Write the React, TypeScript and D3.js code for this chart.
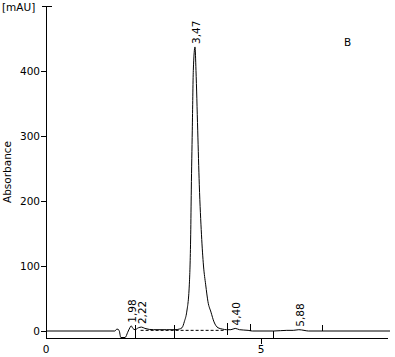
import React from "react";
import * as d3 from "d3";

// Chromatogram signal (time in min, absorbance in mAU)
const times = [0, 1.6, 1.65, 1.7, 1.74, 1.84, 1.9, 1.95, 1.98, 2.02, 2.07, 2.15, 2.22, 2.3, 2.5, 2.8, 3.0, 3.1, 3.163, 3.22, 3.272, 3.333, 3.365, 3.379, 3.402, 3.426, 3.465, 3.488, 3.528, 3.565, 3.616, 3.663, 3.714, 3.767, 3.837, 3.907, 4.0, 4.1, 4.2, 4.3, 4.4, 4.5, 4.7, 4.8, 5.3, 5.6, 5.75, 5.88, 6.0, 6.1, 8.0];
const absorbance = [0, 0, 3, 1, -10, -10, -2, 5, 8, 4, 2, 5, 6, 4, 2, 2, 2, 3, 5, 15, 29, 71, 148, 217, 309, 401, 437, 401, 309, 225, 148, 100, 71, 45, 29, 14, 5, 3, 2, 2, 4, 2, 1, 0, 0, 1, 1, 2, 1, 0, 0];

// Peak labels
const peakLabels = ["1,98", "2,22", "3,47", "4,40", "5,88"];
const peakTimes = [1.98, 2.22, 3.47, 4.40, 5.88];
const peakHeights = [8, 6, 437, 4, 2];

// Integration markers
const markerTimes = [2.07, 2.977, 4.226, 4.76, 5.286, 6.435];
const markerTops = [10, 9, 13, 11, 0, 9];
const markerBottoms = [-10, -10, -6, 0, -11, 0];

// Dashed baseline
const baseStart = [2.2, 1];
const baseEnd = [4.15, 1];

// Axes
const yTicks = [0, 100, 200, 300, 400];
const xTicks = [0, 5];
const xDomain = [0, 8];
const yDomain = [0, 500];

const W = 395;
const H = 357;
const FONT = "'DejaVu Sans', Verdana, sans-serif";

export default function App() {
  const x = d3.scaleLinear().domain(xDomain).range([46, 390]);
  const y = d3.scaleLinear().domain(yDomain).range([331, 6]);
  const axisY = 338;

  const pts: [number, number][] = times.map((t, i) => [t, absorbance[i]]);
  const line = d3
    .line<[number, number]>()
    .x((d) => x(d[0]))
    .y((d) => y(d[1]))
    .curve(d3.curveMonotoneX);

  return (
    <svg
      width={W}
      height={H}
      style={{ position: "absolute", left: 0, top: 0, background: "#fff" }}
      fontFamily={FONT}
    >
      <rect x={0} y={0} width={W} height={H} fill="#fff" />
      {/* axes */}
      <line x1={x(0)} x2={x(0)} y1={y(500)} y2={axisY} stroke="#000" shapeRendering="crispEdges" />
      <line x1={x(0)} x2={388} y1={axisY} y2={axisY} stroke="#000" shapeRendering="crispEdges" />
      <line x1={x(0) - 4} x2={x(0) + 6} y1={y(500)} y2={y(500)} stroke="#000" shapeRendering="crispEdges" />
      {yTicks.map((v) => (
        <g key={"yt" + v}>
          <line x1={x(0) - 5} x2={x(0)} y1={y(v)} y2={y(v)} stroke="#000" shapeRendering="crispEdges" />
          <text x={x(0) - 6} y={y(v) + 4} textAnchor="end" fontSize={10.5} fill="#000">
            {v}
          </text>
        </g>
      ))}
      {xTicks.map((v) => (
        <g key={"xt" + v}>
          {v !== 0 && (
            <line x1={x(v)} x2={x(v)} y1={axisY} y2={axisY + 6} stroke="#000" shapeRendering="crispEdges" />
          )}
          <text x={x(v)} y={353} textAnchor="middle" fontSize={10.5} fill="#000">
            {v}
          </text>
        </g>
      ))}
      <text x={2} y={11} fontSize={10.5} fill="#000">[mAU]</text>
      <text
        transform={`translate(11, 172) rotate(-90)`}
        textAnchor="middle"
        fontSize={10.5}
        fill="#000"
      >
        Absorbance
      </text>
      <text x={344} y={46} fontSize={10.5} fill="#000">B</text>

      {/* dashed baseline */}
      <line
        x1={x(baseStart[0])}
        y1={y(baseStart[1])}
        x2={x(baseEnd[0])}
        y2={y(baseEnd[1])}
        stroke="#000"
        strokeDasharray="3,2"
      />

      {/* signal */}
      <path d={line(pts) || ""} fill="none" stroke="#000" strokeWidth={1} />

      {/* integration markers */}
      {markerTimes.map((t, i) => (
        <line
          key={"m" + i}
          x1={x(t)}
          x2={x(t)}
          y1={y(markerTops[i])}
          y2={y(markerBottoms[i])}
          stroke="#000"
          shapeRendering="crispEdges"
        />
      ))}

      {/* peak labels */}
      {peakLabels.map((lab, i) => (
        <text
          key={"p" + i}
          transform={`translate(${x(peakTimes[i]) + 5}, ${y(peakHeights[i]) - 3}) rotate(-90)`}
          fontSize={10.5}
          fill="#000"
        >
          {lab}
        </text>
      ))}
    </svg>
  );
}
